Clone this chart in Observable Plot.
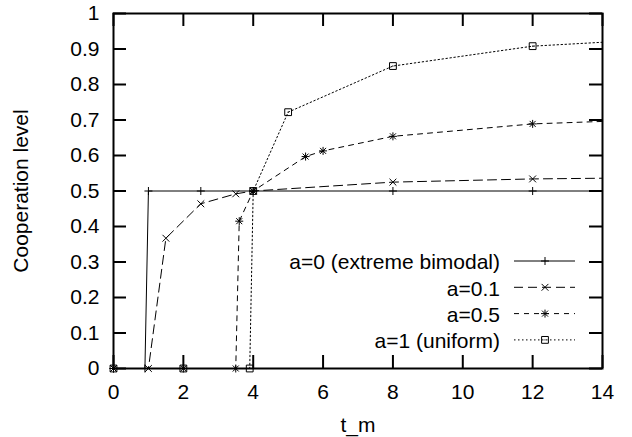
<!DOCTYPE html>
<html><head><meta charset="utf-8">
<script src="https://cdn.jsdelivr.net/npm/d3@7"></script>
<script src="https://cdn.jsdelivr.net/npm/@observablehq/plot@0.6"></script>
<style>html,body{margin:0;padding:0;background:#fff;}</style>
</head><body><div id="chart"></div>
<script>
// ---- data ----
const seriesNames = ["a=0 (extreme bimodal)", "a=0.1", "a=0.5", "a=1 (uniform)"];
const tA0 = [0, 0.9, 1, 2.5, 4, 8, 12, 16];
const yA0 = [0, 0, 0.5, 0.5, 0.5, 0.5, 0.5, 0.5];
const tA01 = [0, 1, 1.5, 2.5, 3.5, 4, 8, 12, 16];
const yA01 = [0, 0, 0.367, 0.464, 0.492, 0.5, 0.525, 0.534, 0.538];
const tA05 = [0, 2, 3.5, 3.6, 4, 5.5, 6, 8, 12, 16];
const yA05 = [0, 0, 0, 0.415, 0.5, 0.597, 0.613, 0.654, 0.689, 0.703];
const tA1 = [0, 2, 3.9, 4, 5, 8, 12, 16];
const yA1 = [0, 0, 0, 0.5, 0.722, 0.852, 0.908, 0.93];
const xTicks = [0, 2, 4, 6, 8, 10, 12, 14];
const yTicks = [0, 0.1, 0.2, 0.3, 0.4, 0.5, 0.6, 0.7, 0.8, 0.9, 1];
const yTickLabels = ["0", "0.1", "0.2", "0.3", "0.4", "0.5", "0.6", "0.7", "0.8", "0.9", "1"];
const xLabel = "t_m";
const yLabel = "Cooperation level";

// ---- gnuplot-like point symbols ----
const rad = (size) => Math.sqrt(size / Math.PI);
const symPlus = {draw(c, s) { const r = rad(s); c.moveTo(-r, 0); c.lineTo(r, 0); c.moveTo(0, -r); c.lineTo(0, r); }};
const symTimes = {draw(c, s) { const r = rad(s) * 0.85; c.moveTo(-r, -r); c.lineTo(r, r); c.moveTo(-r, r); c.lineTo(r, -r); }};
const symStar = {draw(c, s) { const r = rad(s); const q = r * 0.75;
  c.moveTo(-r, 0); c.lineTo(r, 0); c.moveTo(0, -r); c.lineTo(0, r);
  c.moveTo(-q, -q); c.lineTo(q, q); c.moveTo(-q, q); c.lineTo(q, -q); }};
const symSquare = {draw(c, s) { const r = rad(s) * 0.85;
  c.moveTo(-r, -r); c.lineTo(r, -r); c.lineTo(r, r); c.lineTo(-r, r); c.closePath();
  c.moveTo(-0.6, 0); c.lineTo(0.6, 0); }};

const styles = [
  {dash: null, symbol: symPlus},
  {dash: "9,5", symbol: symTimes},
  {dash: "5,5", symbol: symStar},
  {dash: "1.5,2.5", symbol: symSquare}
];
const ts = [tA0, tA01, tA05, tA1];
const ys = [yA0, yA01, yA05, yA1];
const series = seriesNames.map((name, i) => ({
  name, ...styles[i],
  data: ts[i].map((t, j) => ({t, v: ys[i][j]}))
}));

const W = 632, H = 437, mL = 113, mR = 30, mT = 13, mB = 69;
const fw = W - mL - mR, fh = H - mT - mB, tick = 13;
const FS = 21;

const marks = [
  Plot.frame({stroke: "black", strokeWidth: 2}),
  Plot.tickX(xTicks, {x: d => d, insetTop: fh - tick, stroke: "black", strokeWidth: 2}),
  Plot.tickX(xTicks, {x: d => d, insetBottom: fh - tick, stroke: "black", strokeWidth: 2}),
  Plot.tickY(yTicks, {y: d => d, insetRight: fw - tick, stroke: "black", strokeWidth: 2}),
  Plot.tickY(yTicks, {y: d => d, insetLeft: fw - tick, stroke: "black", strokeWidth: 2}),
  Plot.axisX({ticks: xTicks, tickSize: 0, tickPadding: 16, label: null, fontSize: FS}),
  Plot.axisY({ticks: yTicks, tickSize: 0, tickPadding: 14, label: null, fontSize: FS,
              tickFormat: d => yTickLabels[yTicks.indexOf(d)]}),
  Plot.text([xLabel], {frameAnchor: "bottom", textAnchor: "middle", lineAnchor: "middle", dy: 57, text: d => d, fontSize: FS, fill: "black"}),
  Plot.text([yLabel], {frameAnchor: "left", textAnchor: "middle", lineAnchor: "middle", rotate: -90, dx: -92.5, text: d => d, fontSize: FS, fill: "black"})
];
for (const s of series) {
  marks.push(Plot.line(s.data, {x: "t", y: "v", stroke: "black", strokeWidth: 1,
    strokeDasharray: s.dash || undefined, clip: true}));
  marks.push(Plot.dot(s.data.filter(d => d.t <= 14), {x: "t", y: "v", symbol: s.symbol, r: 4,
    stroke: "black", strokeWidth: 1, fill: "none"}));
}

const chart = Plot.plot({
  width: W, height: H,
  marginLeft: mL, marginRight: mR, marginTop: mT, marginBottom: mB,
  style: {fontFamily: "'Liberation Sans', Arial, Helvetica, sans-serif", fontSize: FS + "px", color: "black", background: "white"},
  x: {domain: [0, 14]},
  y: {domain: [0, 1]},
  marks
});

// ---- legend (inside the plot, gnuplot style) ----
const svg = d3.select(chart);
const lg = svg.append("g").attr("font-size", FS).attr("fill", "black");
series.forEach((s, i) => {
  const yy = 261 + i * 26.3;
  lg.append("text").attr("x", 500).attr("y", yy).attr("dy", "0.40em")
    .attr("text-anchor", "end").attr("fill", "black").text(s.name);
  lg.append("line").attr("x1", 514).attr("x2", 575).attr("y1", yy).attr("y2", yy)
    .attr("stroke", "black").attr("stroke-width", 1)
    .attr("stroke-dasharray", s.dash);
  lg.append("path").attr("transform", `translate(545,${yy})`)
    .attr("d", d3.symbol(s.symbol, 16 * Math.PI)())
    .attr("stroke", "black").attr("fill", "none").attr("stroke-width", 1);
});

document.getElementById("chart").appendChild(chart);
</script>
</body></html>
